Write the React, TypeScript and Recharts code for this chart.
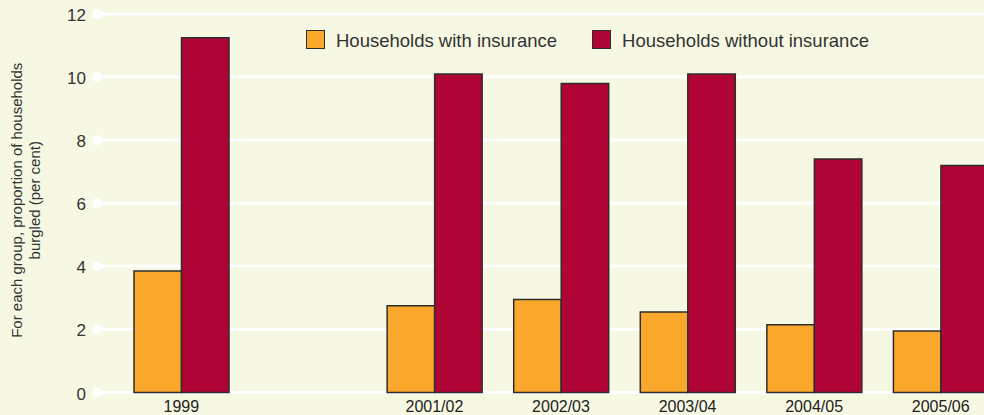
import React from 'react';
import { BarChart, Bar, XAxis, YAxis, CartesianGrid, Legend } from 'recharts';

const categories = ['1999', '', '2001/02', '2002/03', '2003/04', '2004/05', '2005/06'];
const withInsurance = [3.85, null, 2.75, 2.95, 2.55, 2.15, 1.95];
const withoutInsurance = [11.25, null, 10.1, 9.8, 10.1, 7.4, 7.2];
const yTicks = [0, 2, 4, 6, 8, 10, 12];
const seriesNames = ['Households with insurance', 'Households without insurance'];
const yLabelLines = ['For each group, proportion of households', 'burgled (per cent)'];

const ORANGE = '#FAA82C';
const RED = '#B00336';
const BG = '#F7F8E3';
const EDGE = '#2E2E2E';
const FONT = '"Liberation Sans", Arial, Helvetica, sans-serif';

const data = categories.map((c, i) => ({
  cat: c,
  withIns: withInsurance[i],
  withoutIns: withoutInsurance[i],
}));

const YTick = (props: any) => {
  const { x, y, payload } = props;
  return (
    <g>
      <circle cx={x + 11} cy={y} r={5} fill="#FFFFFF" />
      <text x={x} y={y} dy={7} textAnchor="end" fontSize={17} fill="#333" fontFamily={FONT}>
        {payload.value}
      </text>
    </g>
  );
};

const YLabel = (props: any) => {
  const { viewBox } = props;
  const cx1 = viewBox.x + 16;
  const cx2 = viewBox.x + 34;
  const cy = viewBox.y + viewBox.height / 2 - 3;
  return (
    <g fontFamily={FONT} fontSize={15} fill="#333">
      <text x={cx1} y={cy} textAnchor="middle" dominantBaseline="central" transform={`rotate(-90 ${cx1} ${cy})`}>
        {yLabelLines[0]}
      </text>
      <text x={cx2} y={cy} textAnchor="middle" dominantBaseline="central" transform={`rotate(-90 ${cx2} ${cy})`}>
        {yLabelLines[1]}
      </text>
    </g>
  );
};

const LegendContent = () => {
  const colors = [ORANGE, RED];
  return (
    <div style={{ display: 'flex', alignItems: 'center', fontFamily: FONT, fontSize: 18.5, color: '#333', whiteSpace: 'nowrap' }}>
      {seriesNames.map((n, i) => (
        <div key={n} style={{ display: 'flex', alignItems: 'center', marginRight: i === 0 ? 35 : 0 }}>
          <div style={{ width: 17, height: 17, background: colors[i], border: `1.5px solid ${EDGE}` }} />
          <span style={{ marginLeft: 11, position: 'relative', top: 2, lineHeight: '20px' }}>{n}</span>
        </div>
      ))}
    </div>
  );
};

export default function App() {
  return (
    <div style={{ position: 'absolute', left: 0, top: 0, width: 984, height: 415, overflow: 'hidden', background: BG }}>
      <BarChart
        width={1004}
        height={415}
        data={data}
        margin={{ top: 14, right: 0, bottom: 0, left: 0 }}
        barGap={0}
        barSize={47.5}
      >
        <CartesianGrid vertical={false} stroke="#FFFFFF" strokeWidth={3} />
        <XAxis
          dataKey="cat"
          axisLine={false}
          tickLine={false}
          tickSize={0}
          tickMargin={8}
          height={22.5}
          interval={0}
          padding={{ left: 21, right: 0 }}
          tick={{ fontSize: 16, fill: '#222', fontFamily: FONT }}
        />
        <YAxis
          domain={[0, 12]}
          ticks={yTicks}
          width={97}
          axisLine={false}
          tickLine={false}
          tickSize={0}
          tickMargin={11}
          tick={<YTick />}
          label={<YLabel />}
        />
        <Legend
          layout="horizontal"
          verticalAlign="middle"
          align="center"
          content={<LegendContent />}
          wrapperStyle={{ top: 29, left: 306, width: 'auto' }}
        />
        <Bar dataKey="withIns" name={seriesNames[0]} fill={ORANGE} stroke={EDGE} strokeWidth={1.5} isAnimationActive={false} />
        <Bar dataKey="withoutIns" name={seriesNames[1]} fill={RED} stroke={EDGE} strokeWidth={1.5} isAnimationActive={false} />
      </BarChart>
    </div>
  );
}
